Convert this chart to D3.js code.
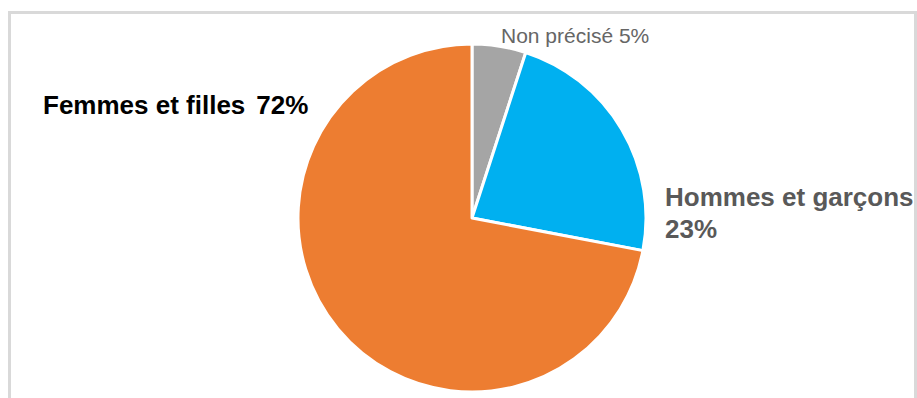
<!DOCTYPE html>
<html>
<head>
<meta charset="utf-8">
<style>
  body { margin: 0; background: #fff; }
  svg { display: block; font-family: "Liberation Sans", Arial, sans-serif; }
</style>
<script src="https://cdn.jsdelivr.net/npm/d3@7/dist/d3.min.js"></script>
</head>
<body>
<svg width="917" height="398"></svg>
<script>
var categories = ["Non précisé", "Hommes et garçons", "Femmes et filles"];
var values = [5, 23, 72];
var colors = ["#a5a5a5", "#00b0f0", "#ed7d31"];

var svg = d3.select("svg");

var cx = 472, cy = 218, radius = 174;

var pie = d3.pie().sort(null).value(function(d) { return d; });
var arc = d3.arc().innerRadius(0).outerRadius(radius);

var g = svg.append("g")
    .attr("transform", "translate(" + cx + "," + cy + ")");

g.selectAll("path")
    .data(pie(values))
    .enter()
    .append("path")
    .attr("d", arc)
    .attr("fill", function(d, i) { return colors[i]; })
    .attr("stroke", "#fff")
    .attr("stroke-width", 3)
    .attr("stroke-linejoin", "round");

// labels
svg.append("text")
    .attr("x", 501).attr("y", 42.5)
    .attr("font-size", 21)
    .attr("fill", "#666")
    .text(categories[0] + " " + values[0] + "%");

var hom = svg.append("text")
    .attr("x", 665).attr("y", 205.5)
    .attr("font-size", 26).attr("font-weight", "bold")
    .attr("fill", "#595959");
hom.append("tspan").attr("x", 665).text(categories[1]);
hom.append("tspan").attr("x", 665).attr("dy", 32).text(values[1] + "%");

var fem = svg.append("text")
    .attr("x", 43).attr("y", 113.5)
    .attr("font-size", 26).attr("font-weight", "bold")
    .attr("fill", "#000");
fem.append("tspan").text(categories[2]);
fem.append("tspan").attr("dx", 11).text(values[2] + "%");

// chart frame
svg.append("rect")
    .attr("x", 9.5).attr("y", 12.5)
    .attr("width", 906).attr("height", 420)
    .attr("fill", "none")
    .attr("stroke", "#d9d9d9")
    .attr("stroke-width", 3);
</script>
</body>
</html>
